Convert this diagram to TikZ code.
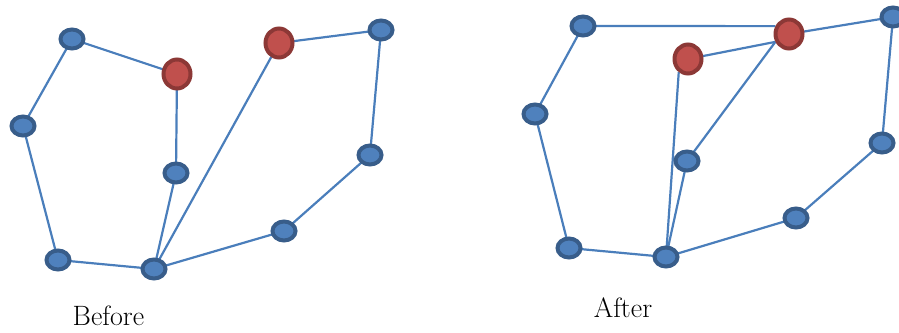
\documentclass[tikz,border=0pt]{standalone}
\usetikzlibrary{shapes.geometric,backgrounds}
\definecolor{bfill}{HTML}{4F81BD}
\definecolor{bdraw}{HTML}{385D8A}
\definecolor{rfill}{HTML}{C0504D}
\definecolor{rdraw}{HTML}{8C3836}
\definecolor{edgec}{HTML}{4A7EBB}
\tikzset{
  bnode/.style={ellipse, fill=bfill, draw=bdraw, line width=4pt, minimum width=23pt, minimum height=19pt, inner sep=0pt},
  rnode/.style={ellipse, fill=rfill, draw=rdraw, line width=4pt, minimum width=27pt, minimum height=29pt, inner sep=0pt},
  edge/.style={draw=edgec, line width=2.2pt},
  lbl/.style={anchor=base, font=\fontsize{28}{33}\selectfont, inner sep=0pt}
}
\begin{document}
\begin{tikzpicture}[x=1pt,y=-1pt]
\useasboundingbox (0,0) rectangle (899,332);
% Before
\node[bnode] (A) at (72,39) {};
\node[bnode] (B) at (23,126) {};
\node[bnode] (C) at (58,260) {};
\node[bnode] (D) at (154,269) {};
\node[bnode] (E) at (176,173) {};
\node[rnode] (R1) at (177,74) {};
\node[rnode] (R2) at (279,43) {};
\node[bnode] (F) at (381,30) {};
\node[bnode] (G) at (370,155) {};
\node[bnode] (H) at (284,231) {};
% After
\node[bnode] (a) at (583,26) {};
\node[bnode] (b) at (535,114) {};
\node[bnode] (c) at (569,248) {};
\node[bnode] (d) at (666,257) {};
\node[bnode] (e) at (687,161) {};
\node[rnode] (r1) at (688,59) {};
\node[rnode] (r2) at (789,34) {};
\node[bnode] (f) at (893,17) {};
\node[bnode] (g) at (882,143) {};
\node[bnode] (h) at (796,218) {};
\begin{scope}[on background layer]
\draw[edge] (A.center) -- (B.center) -- (C.center) -- (D.center);
\draw[edge] (A.center) -- (R1.center) -- (E.center) -- (D.center);
\draw[edge] (D.center) -- (R2.center) -- (F.center) -- (G.center) -- (H.center) -- (D.center);
\draw[edge] (a.center) -- (b.center) -- (c.center) -- (d.center);
\draw[edge] (a.center) -- (r2.150);
\draw[edge] (r1.center) -- (r2.210);
\draw[edge] (r2.210) -- (e.center) -- (d.center);
\draw[edge] (r1.235) -- (d.center);
\draw[edge] (r2.center) -- (f.center) -- (g.center) -- (h.center) -- (d.center);
\end{scope}
\node[lbl] (before) at (108.5,325) {Before};
\node[lbl] (after) at (623,317) {After};
\end{tikzpicture}
\end{document}
